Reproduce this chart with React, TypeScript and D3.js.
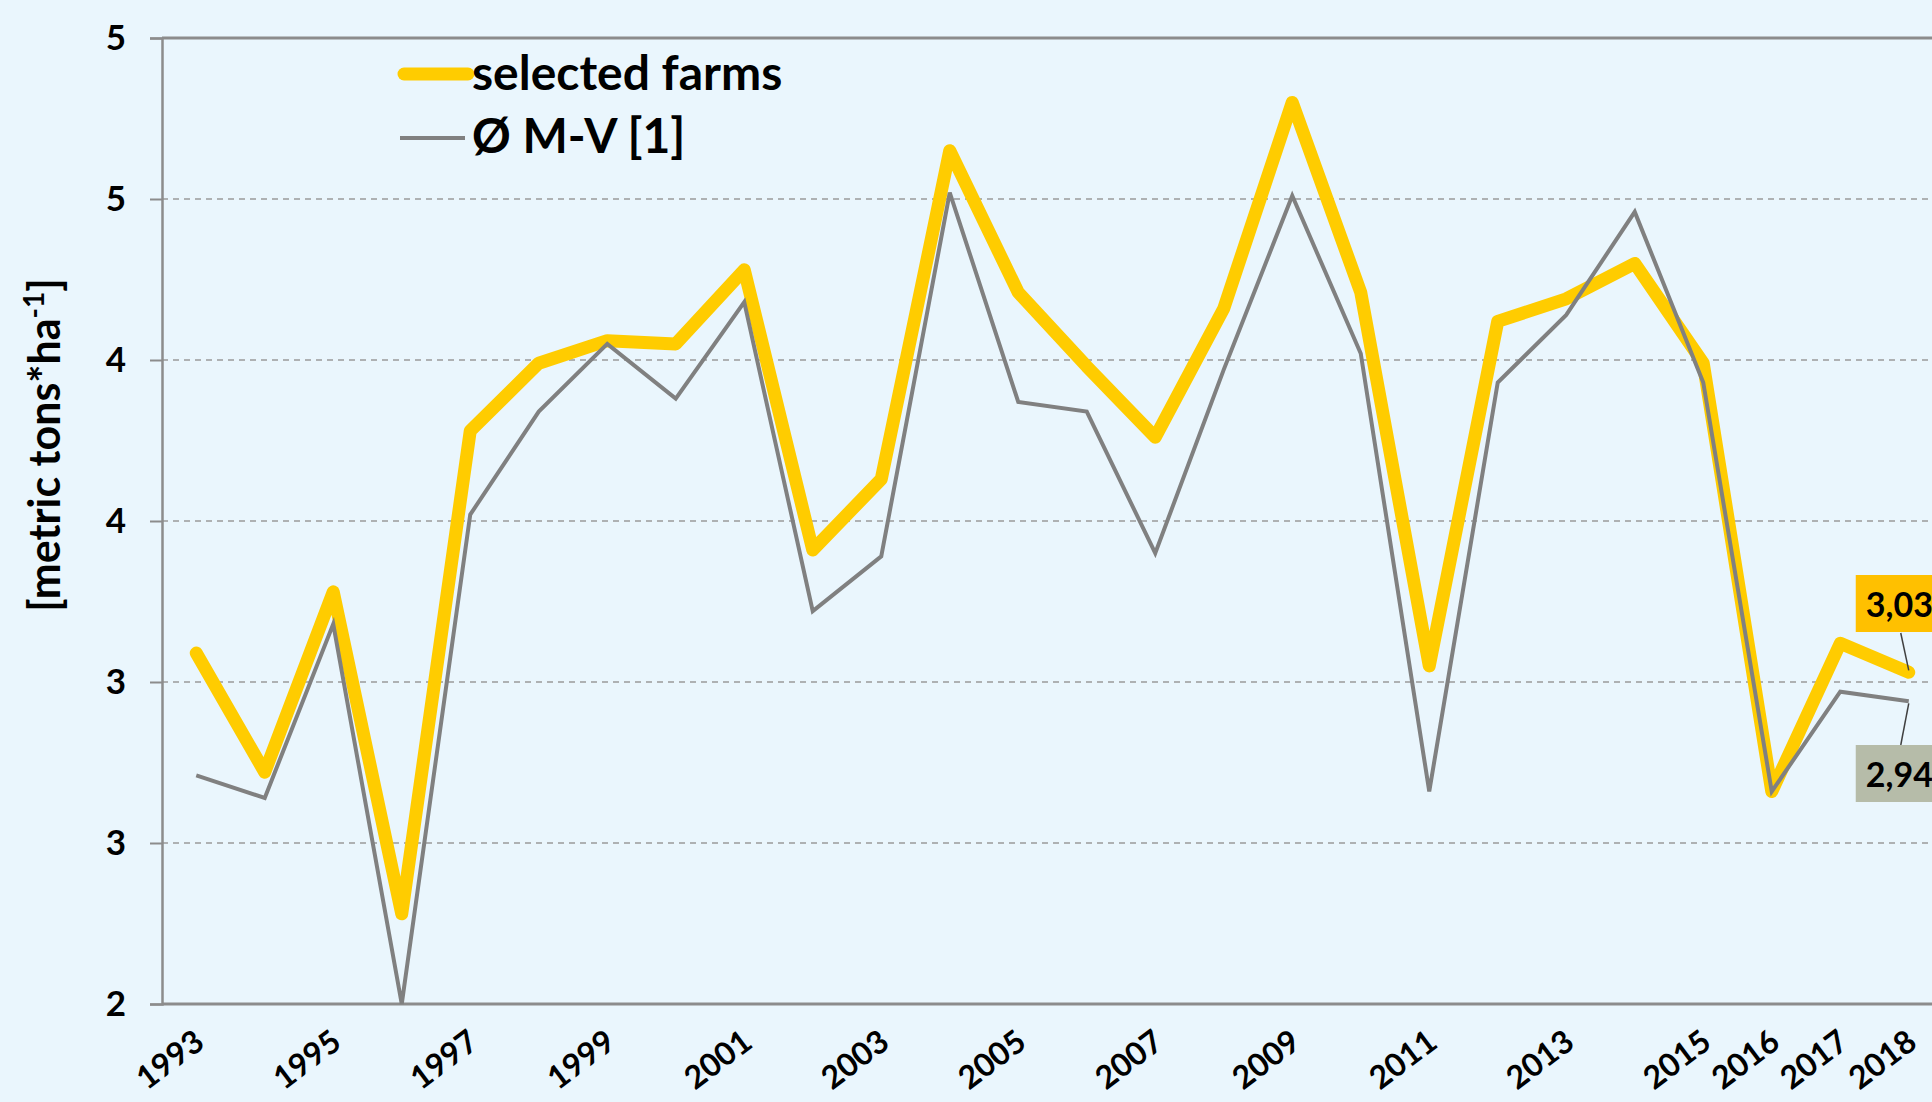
import { useEffect, useRef } from 'react'
import * as d3 from 'd3'

const years = [
  '1993', '1994', '1995', '1996', '1997', '1998', '1999', '2000', '2001', '2002',
  '2003', '2004', '2005', '2006', '2007', '2008', '2009', '2010', '2011', '2012',
  '2013', '2014', '2015', '2016', '2017', '2018',
]
const shownYears = [
  '1993', '1995', '1997', '1999', '2001', '2003', '2005', '2007', '2009', '2011',
  '2013', '2015', '2016', '2017', '2018',
]
const selectedFarms = [
  3.09, 2.72, 3.28, 2.28, 3.78, 3.99, 4.06, 4.05, 4.28, 3.41,
  3.63, 4.65, 4.21, 3.98, 3.76, 4.16, 4.80, 4.21, 3.05, 4.12,
  4.19, 4.30, 3.99, 2.66, 3.12, 3.03,
]
const mvAverage = [
  2.71, 2.64, 3.18, 2.00, 3.52, 3.84, 4.05, 3.88, 4.18, 3.22,
  3.39, 4.52, 3.87, 3.84, 3.40, 3.97, 4.51, 4.02, 2.66, 3.93,
  4.14, 4.46, 3.93, 2.66, 2.97, 2.94,
]
const yTicks = [2, 2.5, 3, 3.5, 4, 4.5, 5]
const yTickLabels = ['2', '3', '3', '4', '4', '5', '5']
const seriesNames = ['selected farms', 'Ø M-V [1]']
const lastLabels = ['3,03', '2,94']

export default function App() {
  const svgRef = useRef<SVGSVGElement>(null)

  useEffect(() => {
    if (!svgRef.current) return
    document.body.style.margin = '0'

    const W = 1932
    const H = 1102
    const left = 162
    const top = 38
    const bottom = 1004
    const font = 'Lato, "Open Sans", sans-serif'

    const svg = d3.select(svgRef.current)
    svg.selectAll('*').remove()
    svg.attr('width', W).attr('height', H)

    svg.append('rect').attr('width', W).attr('height', H).attr('fill', '#eaf6fd')

    const x = d3.scalePoint<string>()
      .domain(years)
      .range([left, left + 26 * 68.5])
      .padding(0.5)

    const y = d3.scaleLinear().domain([2, 5]).range([bottom, top])

    // gridlines
    svg.append('g')
      .selectAll('line')
      .data(yTicks.filter(t => t > 2 && t < 5))
      .join('line')
      .attr('x1', left)
      .attr('x2', W)
      .attr('y1', d => y(d))
      .attr('y2', d => y(d))
      .attr('stroke', '#9a9a9a')
      .attr('stroke-width', 1.5)
      .attr('stroke-dasharray', '6,5')

    // top border
    svg.append('line')
      .attr('x1', left).attr('x2', W)
      .attr('y1', y(5)).attr('y2', y(5))
      .attr('stroke', '#8c8c8c').attr('stroke-width', 3)

    // y axis
    const yAxis = svg.append('g')
      .attr('transform', `translate(${left},0)`)
      .call(d3.axisLeft(y).tickValues(yTicks).tickSize(12).tickPadding(24)
        .tickFormat((_d, i) => yTickLabels[i]))
    yAxis.select('.domain').attr('stroke', '#8c8c8c').attr('stroke-width', 2.5)
    yAxis.selectAll('.tick line').attr('stroke', '#8c8c8c').attr('stroke-width', 2)
    yAxis.selectAll('.tick text')
      .attr('fill', '#000')
      .attr('font-family', font)
      .attr('font-weight', 'bold')
      .attr('font-size', 35)

    // x axis
    svg.append('line')
      .attr('x1', left).attr('x2', W)
      .attr('y1', bottom).attr('y2', bottom)
      .attr('stroke', '#8c8c8c').attr('stroke-width', 3)

    svg.append('g')
      .selectAll('text')
      .data(shownYears)
      .join('text')
      .attr('transform', d => `translate(${(x(d) || 0) + 10},1046) rotate(-37)`)
      .attr('text-anchor', 'end')
      .attr('font-family', font)
      .attr('font-weight', 'bold')
      .attr('font-size', 32)
      .attr('fill', '#000')
      .text(d => d)

    // y axis title
    const title = svg.append('text')
      .attr('transform', 'translate(60,445) rotate(-90)')
      .attr('text-anchor', 'middle')
      .attr('font-family', font)
      .attr('font-weight', 'bold')
      .attr('font-size', 43)
      .attr('fill', '#000')
    title.append('tspan').text('[metric tons*ha')
    title.append('tspan').attr('font-size', 28).attr('dy', -16).text('-1')
    title.append('tspan').attr('dy', 16).text(']')

    // lines
    const line = d3.line<number>()
      .x((_d, i) => x(years[i]) || 0)
      .y(d => y(d))

    svg.append('path')
      .datum(selectedFarms)
      .attr('d', line)
      .attr('fill', 'none')
      .attr('stroke', '#ffcc00')
      .attr('stroke-width', 13)
      .attr('stroke-linejoin', 'round')
      .attr('stroke-linecap', 'round')

    svg.append('path')
      .datum(mvAverage)
      .attr('d', line)
      .attr('fill', 'none')
      .attr('stroke', '#808080')
      .attr('stroke-width', 4)
      .attr('stroke-linejoin', 'miter')

    // legend
    const legend = svg.append('g')
    legend.append('line')
      .attr('x1', 404).attr('x2', 468).attr('y1', 74).attr('y2', 74)
      .attr('stroke', '#ffcc00').attr('stroke-width', 13).attr('stroke-linecap', 'round')
    legend.append('line')
      .attr('x1', 400).attr('x2', 465).attr('y1', 138).attr('y2', 138)
      .attr('stroke', '#808080').attr('stroke-width', 4)
    legend.selectAll('text')
      .data(seriesNames)
      .join('text')
      .attr('x', 472)
      .attr('y', (_d, i) => (i === 0 ? 90 : 153))
      .attr('font-family', font)
      .attr('font-weight', 'bold')
      .attr('font-size', 48)
      .attr('fill', '#000')
      .text(d => d)

    // end labels with leader lines
    const lastX = x(years[years.length - 1]) || 0
    const lastVals = [selectedFarms[selectedFarms.length - 1], mvAverage[mvAverage.length - 1]]
    const boxes = [
      { y0: 575, fill: '#ffc000', ly: 633, dyv: -2 },
      { y0: 745, fill: '#b6bca9', ly: 745, dyv: 2 },
    ]
    boxes.forEach((b, i) => {
      svg.append('line')
        .attr('x1', lastX - 8).attr('y1', b.ly)
        .attr('x2', lastX).attr('y2', y(lastVals[i]) + b.dyv)
        .attr('stroke', '#404040').attr('stroke-width', 1.5)
      svg.append('rect')
        .attr('x', lastX - 53).attr('y', b.y0)
        .attr('width', 100).attr('height', 57)
        .attr('fill', b.fill)
      svg.append('text')
        .attr('x', lastX - 43).attr('y', b.y0 + 42)
        .attr('font-family', font)
        .attr('font-weight', 'bold')
        .attr('font-size', 34)
        .attr('fill', '#000')
        .text(lastLabels[i])
    })
  }, [])

  return <svg ref={svgRef} style={{ display: 'block' }}></svg>
}
